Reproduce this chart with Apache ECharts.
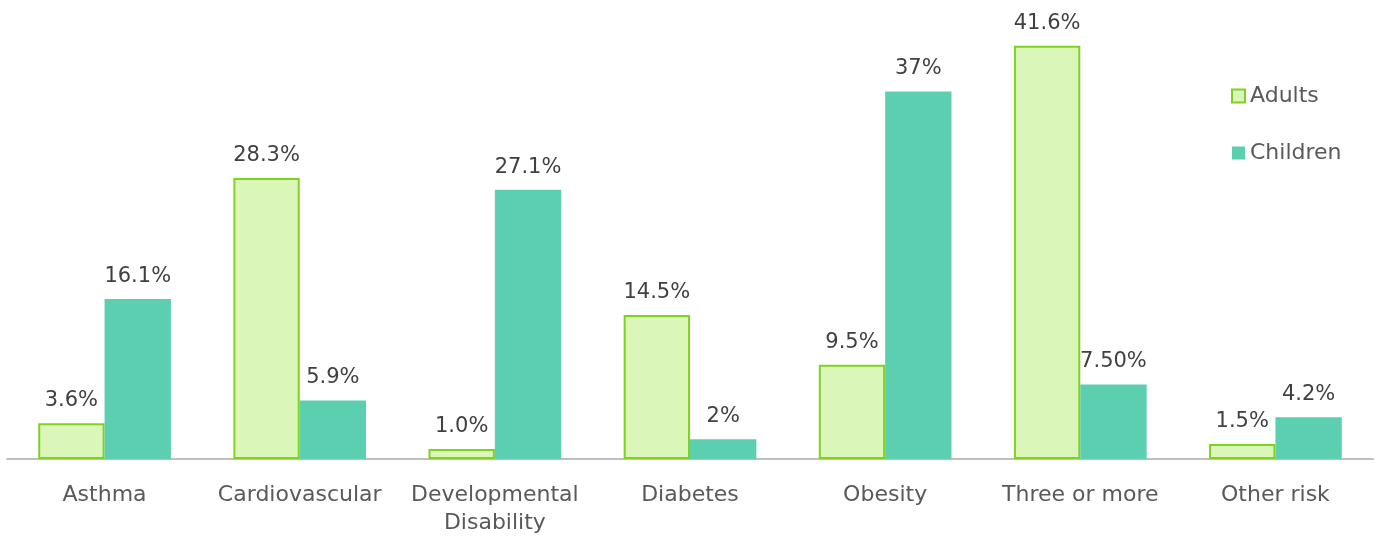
<!DOCTYPE html>
<html><head><meta charset="utf-8">
<script src="https://cdn.jsdelivr.net/npm/echarts@6/dist/echarts.min.js"></script>
<style>html,body{margin:0;padding:0;background:#fff}#c{width:1376px;height:537px}</style>
</head><body><div id="c"></div>
<script>
var categories = ['Asthma', 'Cardiovascular', 'Developmental\nDisability', 'Diabetes', 'Obesity', 'Three or more', 'Other risk'];
var adultsValues = [3.6, 28.3, 1.0, 14.5, 9.5, 41.6, 1.5];
var adultsLabels = ['3.6%', '28.3%', '1.0%', '14.5%', '9.5%', '41.6%', '1.5%'];
var childrenValues = [16.1, 5.9, 27.1, 2, 37, 7.5, 4.2];
var childrenLabels = ['16.1%', '5.9%', '27.1%', '2%', '37%', '7.50%', '4.2%'];

var FONT = 'DejaVu Sans';
var chart = echarts.init(document.getElementById('c'), null, {renderer: 'canvas'});
function lbl(arr) {
  return {show: true, position: 'top', distance: 12, color: '#404040', fontSize: 21, fontFamily: FONT,
    formatter: function (p) { return arr[p.dataIndex]; }};
}
chart.setOption({
  animation: false,
  textStyle: {fontFamily: FONT},
  grid: {left: 7, right: 3, top: 12, bottom: 73, containLabel: false},
  legend: {
    orient: 'vertical', left: 1226, top: 80, itemGap: 35, itemWidth: 13, itemHeight: 13,
    icon: 'rect',
    textStyle: {fontSize: 22, color: '#595959', fontFamily: FONT},
    data: ['Adults', 'Children']
  },
  xAxis: {
    type: 'category', data: categories,
    axisLine: {lineStyle: {color: '#bfbfbf', width: 2}},
    axisTick: {show: false},
    axisLabel: {fontSize: 22, color: '#595959', margin: 22, lineHeight: 28, interval: 0, fontFamily: FONT}
  },
  yAxis: {type: 'value', min: 0, max: 45, show: false, splitLine: {show: false}},
  series: [
    {name: 'Adults', type: 'bar', data: adultsValues, barGap: '0%', barCategoryGap: '32%',
      itemStyle: {color: '#daf7b9', borderColor: '#7ed321', borderWidth: 2},
      label: lbl(adultsLabels)},
    {name: 'Children', type: 'bar', data: childrenValues,
      itemStyle: {color: '#5ccfb0'},
      label: lbl(childrenLabels)}
  ]
});
</script></body></html>
